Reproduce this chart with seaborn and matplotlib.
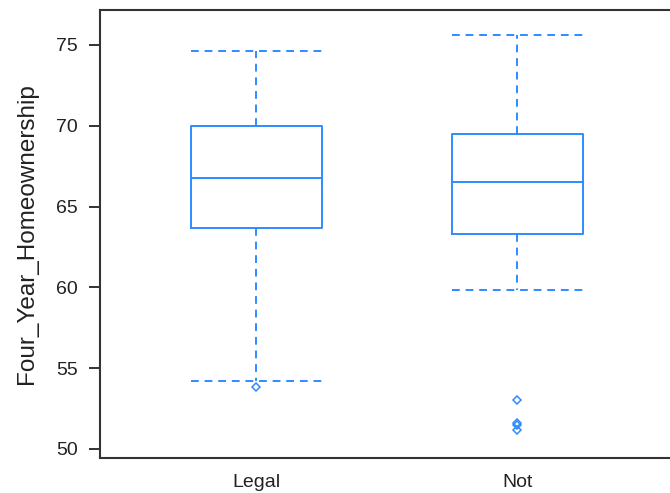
import numpy as np
import pandas as pd
import matplotlib
matplotlib.use("Agg")
import matplotlib.pyplot as plt
import seaborn as sns

# --- DATA ---
legal_values = [53.84, 54.19, 63.66, 65.2, 66.77, 68.3, 70.0, 72.1, 74.63]
not_values = [51.2, 51.5, 51.6, 53.0, 59.83, 63.3, 64.1, 64.9, 65.6, 66.1,
              66.5, 67.2, 67.9, 68.6, 69.1, 69.5, 70.8, 72.0, 73.3, 74.5, 75.6]
groups = ["Legal", "Not"]

df = pd.DataFrame({
    "Status": ["Legal"] * len(legal_values) + ["Not"] * len(not_values),
    "Four_Year_Homeownership": legal_values + not_values,
})

blue = "#2E8BFF"
dark = "#333333"

sns.set_style("white")
plt.rcParams["font.family"] = ["Liberation Sans", "DejaVu Sans"]

fig = plt.figure(figsize=(6.7, 4.93), dpi=100)
ax = fig.add_axes([0.149, 0.071, 0.857, 0.909])

sns.boxplot(
    data=df, x="Status", y="Four_Year_Homeownership", order=groups,
    fill=False, color=blue, linecolor=blue, width=0.5, whis=1.5,
    linewidth=1.4, ax=ax,
    whiskerprops=dict(linestyle=(0, (4, 3)), color=blue),
    capprops=dict(linestyle=(0, (4, 3)), color=blue),
    flierprops=dict(marker="D", markersize=4.5, markerfacecolor="none",
                    markeredgecolor=blue, markeredgewidth=1.1),
    capwidths=0.5,
)

ax.set_xlim(-0.6, 1.6)
ax.set_ylim(49.44, 77.17)
ax.set_yticks([50, 55, 60, 65, 70, 75])
ax.set_xlabel("")
ax.set_ylabel("Four_Year_Homeownership", fontsize=17.5, color="#222222", labelpad=13)

ax.tick_params(axis="y", left=True, length=8, width=1.4, color=dark,
               labelsize=14, labelcolor="#222222", pad=8)
ax.tick_params(axis="x", bottom=False, labelsize=14, labelcolor="#222222", pad=8)

for side in ["left", "top", "bottom", "right"]:
    ax.spines[side].set_color(dark)
    ax.spines[side].set_linewidth(1.5)

plt.savefig("out.png", dpi=100)
